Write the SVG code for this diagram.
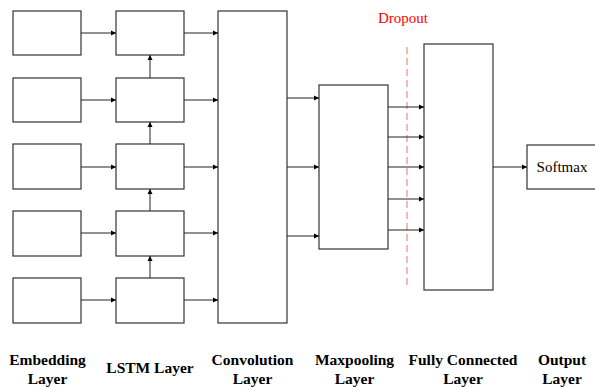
<svg xmlns="http://www.w3.org/2000/svg" width="595" height="387" viewBox="0 0 595 387">
<defs>
<marker id="ah" markerWidth="6" markerHeight="6" refX="5" refY="3" orient="auto" markerUnits="userSpaceOnUse">
<path d="M0,0.5 L5,3 L0,5.5 Z" fill="#000"/>
</marker>
<style>
.box{fill:#fff;stroke:#333;stroke-width:1.2}
.ar{stroke:#222;stroke-width:1;fill:none;marker-end:url(#ah)}
.lbl{font-weight:bold;font-size:15.5px;text-anchor:middle;fill:#000}
.txt{font-size:15px;text-anchor:middle}
</style>
</defs>
<rect width="595" height="387" fill="#fff"/>
<g id="embedding">
<rect class="box" x="13" y="11" width="68" height="44"/>
<rect class="box" x="13" y="78" width="68" height="44"/>
<rect class="box" x="13" y="144" width="68" height="45"/>
<rect class="box" x="13" y="211" width="68" height="45"/>
<rect class="box" x="13" y="278" width="68" height="45"/>
</g>
<g id="lstm">
<rect class="box" x="116" y="11" width="68" height="44"/>
<rect class="box" x="116" y="78" width="68" height="44"/>
<rect class="box" x="116" y="144" width="68" height="45"/>
<rect class="box" x="116" y="211" width="68" height="45"/>
<rect class="box" x="116" y="278" width="68" height="45"/>
</g>
<g id="convolution">
<rect class="box" x="218" y="11" width="69" height="312"/>
</g>
<g id="maxpooling">
<rect class="box" x="319" y="85" width="69" height="164"/>
</g>
<g id="fully-connected">
<rect class="box" x="424" y="44" width="69" height="246"/>
</g>
<g id="softmax">
<rect class="box" x="527" y="145" width="80" height="44"/>
<text class="txt" font-family="Liberation Serif, serif" x="562" y="172">Softmax</text>
</g>
<g id="dropout">
<line x1="407" y1="47" x2="407" y2="288" stroke="#f07070" stroke-width="1" stroke-dasharray="7,4"/>
<text class="txt" font-family="Liberation Serif, serif" x="403" y="23" fill="#ff0000">Dropout</text>
</g>
<g id="connectors">
<line class="ar" x1="81" y1="33" x2="116" y2="33"/>
<line class="ar" x1="81" y1="100" x2="116" y2="100"/>
<line class="ar" x1="81" y1="167" x2="116" y2="167"/>
<line class="ar" x1="81" y1="233" x2="116" y2="233"/>
<line class="ar" x1="81" y1="300" x2="116" y2="300"/>
<line class="ar" x1="184" y1="33" x2="218" y2="33"/>
<line class="ar" x1="184" y1="100" x2="218" y2="100"/>
<line class="ar" x1="184" y1="167" x2="218" y2="167"/>
<line class="ar" x1="184" y1="233" x2="218" y2="233"/>
<line class="ar" x1="184" y1="300" x2="218" y2="300"/>
<line class="ar" x1="150" y1="78" x2="150" y2="55"/>
<line class="ar" x1="150" y1="144" x2="150" y2="122"/>
<line class="ar" x1="150" y1="211" x2="150" y2="189"/>
<line class="ar" x1="150" y1="278" x2="150" y2="256"/>
<line class="ar" x1="287" y1="98" x2="319" y2="98"/>
<line class="ar" x1="287" y1="167" x2="319" y2="167"/>
<line class="ar" x1="287" y1="236" x2="319" y2="236"/>
<line class="ar" x1="388" y1="107" x2="424" y2="107"/>
<line class="ar" x1="388" y1="137" x2="424" y2="137"/>
<line class="ar" x1="388" y1="167" x2="424" y2="167"/>
<line class="ar" x1="388" y1="199" x2="424" y2="199"/>
<line class="ar" x1="388" y1="230" x2="424" y2="230"/>
<line class="ar" x1="493" y1="167" x2="527" y2="167"/>
</g>
<g id="labels" font-family="Liberation Serif, serif">
<text class="lbl" x="47.5" y="365">Embedding</text>
<text class="lbl" x="47.5" y="384">Layer</text>
<text class="lbl" x="150" y="373">LSTM Layer</text>
<text class="lbl" x="252.5" y="365">Convolution</text>
<text class="lbl" x="252.5" y="384">Layer</text>
<text class="lbl" x="354.5" y="365">Maxpooling</text>
<text class="lbl" x="354.5" y="384">Layer</text>
<text class="lbl" x="463" y="365">Fully Connected</text>
<text class="lbl" x="463" y="384">Layer</text>
<text class="lbl" x="562" y="365">Output</text>
<text class="lbl" x="562" y="384">Layer</text>
</g>
</svg>
